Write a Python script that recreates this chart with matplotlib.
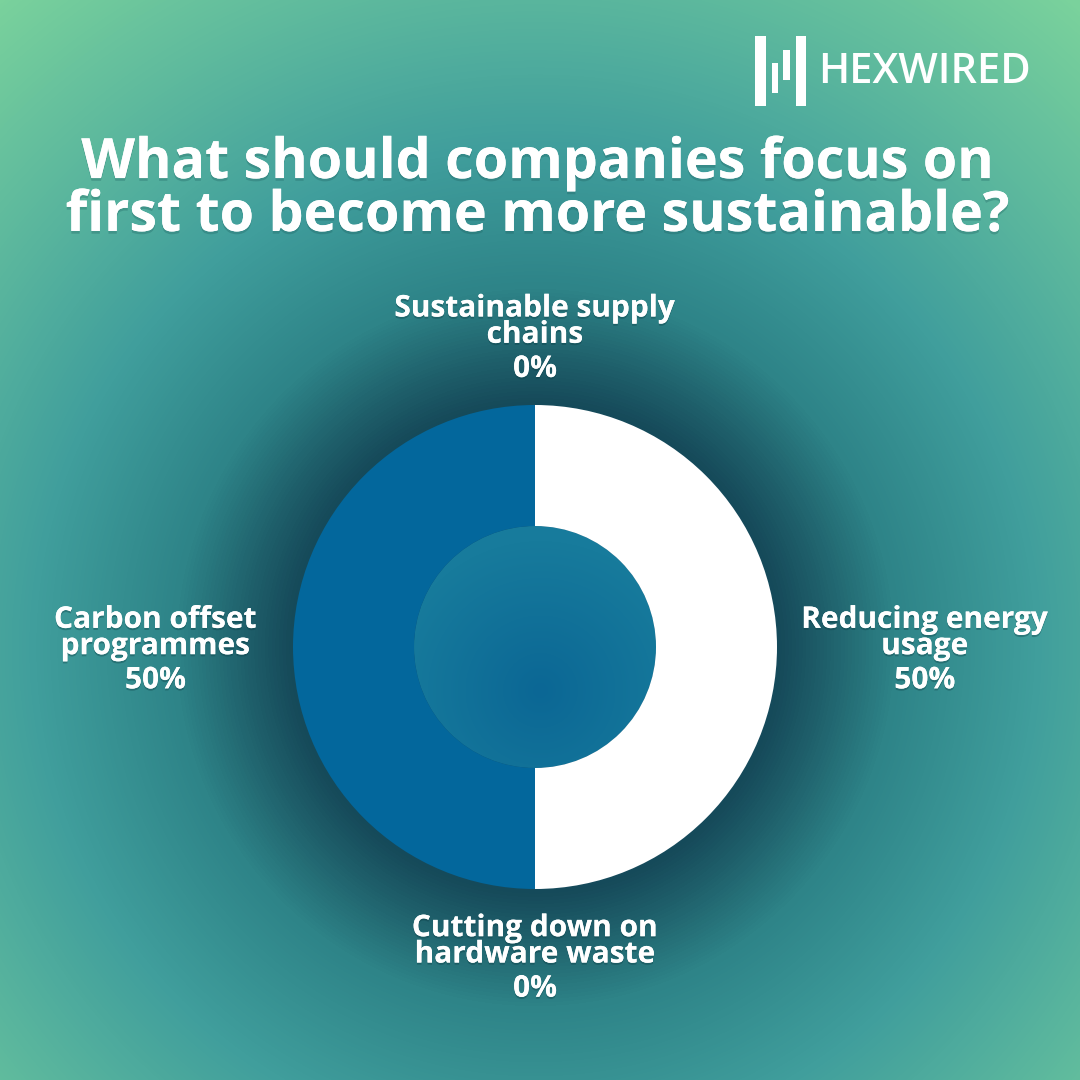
import numpy as np
import matplotlib.pyplot as plt
import matplotlib.patheffects as pe
from matplotlib.colors import LinearSegmentedColormap
from matplotlib.patches import Rectangle

# data
labels = ['Sustainable supply\nchains', 'Reducing energy\nusage',
          'Cutting down on\nhardware waste', 'Carbon offset\nprogrammes']
shares = [0, 50, 0, 50]
colors = ['#1a8fc4', '#ffffff', '#5fb6c9', '#03679c']

title = 'What should companies focus on\nfirst to become more sustainable?'

W = H = 1080
cx, cy = 535, H - 647   # donut centre (data coords, y up)
R = 242

fig = plt.figure(figsize=(10.8, 10.8), dpi=100)
ax = fig.add_axes([0, 0, 1, 1])
ax.set_xlim(0, W)
ax.set_ylim(0, H)
ax.axis('off')

# background: radial gradient, dark around the donut, green toward corners
yy, xx = np.mgrid[0:H, 0:W]
d = np.hypot(xx - cx, (H - yy) - cy)
stops = [(0, '#0b5f8c'), (245, '#164a5a'), (290, '#1f606b'), (360, '#2e8488'),
         (500, '#409e9c'), (650, '#5ab69e'), (840, '#7ad29c'), (900, '#7ad29c')]
dmax = stops[-1][0]
bg_cmap = LinearSegmentedColormap.from_list('bg', [(s / dmax, c) for s, c in stops])
ax.imshow(bg_cmap(np.clip(d / dmax, 0, 1)), extent=[0, W, 0, H], origin='upper',
          zorder=0, aspect='auto')

# hole of the donut: softer blue radial gradient
hole_cmap = LinearSegmentedColormap.from_list('hole', ['#0b6795', '#177b9c'])
dh = np.hypot(xx - 540, (H - yy) - (H - 690)) / 150
hole = ax.imshow(hole_cmap(np.clip(dh, 0, 1)), extent=[0, W, 0, H], origin='upper',
                 zorder=1, aspect='auto')
circ = plt.Circle((cx, cy), R * 0.5, transform=ax.transData)
hole.set_clip_path(circ)

wedges, _ = ax.pie(shares, colors=colors, startangle=90, counterclock=False,
                   center=(cx, cy), radius=R, frame=True,
                   wedgeprops=dict(width=R * 0.5, linewidth=0))
for w in wedges:
    w.set_zorder(2)
ax.set_xlim(0, W)
ax.set_ylim(0, H)
ax.set_aspect('equal')
ax.axis('off')

shadow = [pe.withSimplePatchShadow(offset=(0, -1.5), shadow_rgbFace='#0a3a40', alpha=0.35), pe.Normal()]
label_font = dict(family='Open Sans', weight='bold', color='white', fontsize=21.5)

gap = 1.1
for w, name, val in zip(wedges, labels, shares):
    ang = np.deg2rad((w.theta1 + w.theta2) / 2)
    x = cx + gap * R * np.cos(ang)
    y = cy + gap * R * np.sin(ang)
    if np.cos(ang) > 0.5:
        ha, va, dx, dy = 'left', 'center', 0, 14
    elif np.cos(ang) < -0.5:
        ha, va, dx, dy = 'right', 'center', -12, 14
    elif np.sin(ang) > 0:
        ha, va, dx, dy = 'center', 'bottom', 0, 31
    else:
        ha, va, dx, dy = 'center', 'top', 0, 0
    t = ax.text(x + dx, y + dy, name, ha=ha, va=va, multialignment='center',
                linespacing=0.84, zorder=5, path_effects=shadow, **label_font)
    ax.annotate(f'{val}%', xy=(0.5, 0), xycoords=t, xytext=(0, -3),
                textcoords='offset points', ha='center', va='top', zorder=5,
                path_effects=shadow, **label_font)

# title
ax.text(537, H - 190, title, ha='center', va='center', linespacing=0.95,
        family='Open Sans', weight='bold', fontsize=40, color='white', zorder=5,
        path_effects=[pe.withSimplePatchShadow(offset=(0, -2), shadow_rgbFace='#1d5e5e', alpha=0.3), pe.Normal()])

# logo
for x0, x1, y0, y1 in [(755, 766, 36, 106), (772, 778, 63, 93), (783, 790, 50, 80), (796, 806, 36, 106)]:
    ax.add_patch(Rectangle((x0, H - y1), x1 - x0, y1 - y0, color='white', lw=0, zorder=5))
ax.text(818, H - 72, 'HEXWIRED', ha='left', va='center', family='Open Sans',
        weight='semibold', fontsize=30, color='white', zorder=5)

fig.savefig('out.png', dpi=100)
